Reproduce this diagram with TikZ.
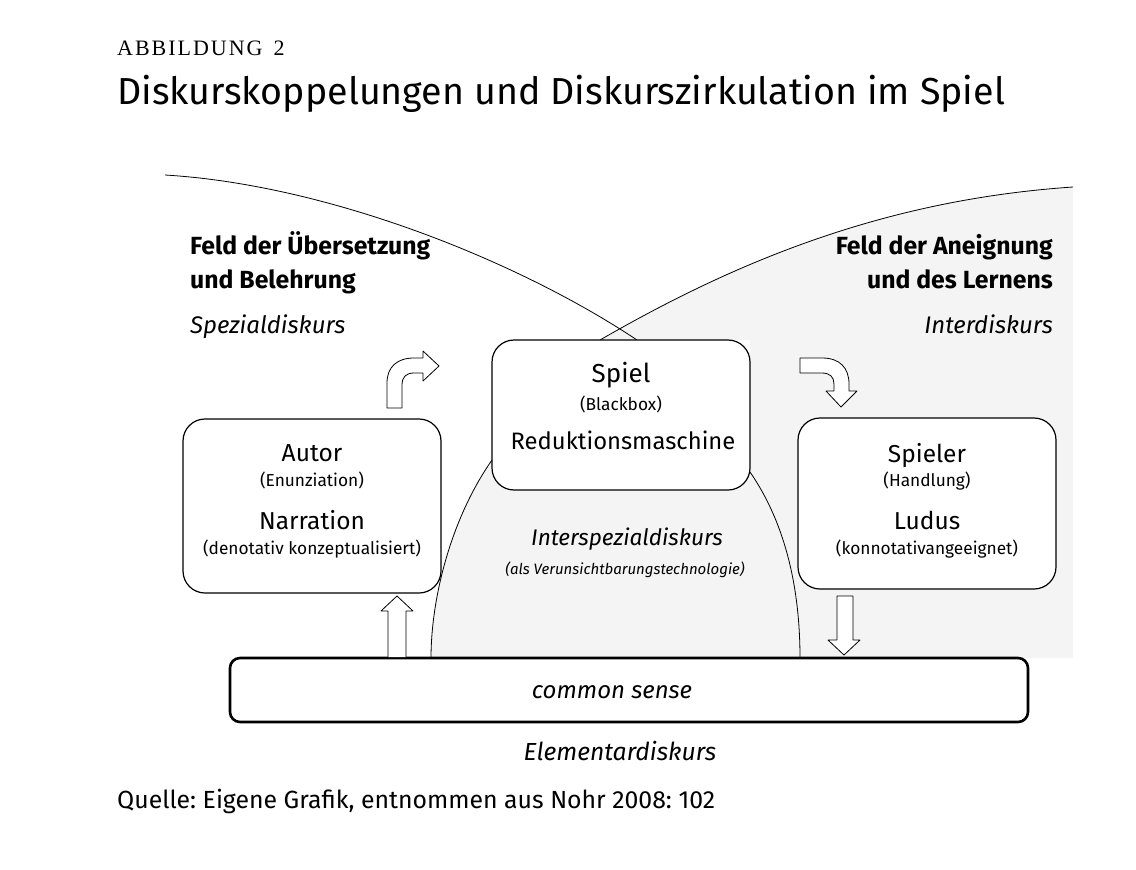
\documentclass[tikz,border=0pt]{standalone}
\usepackage{fontspec}
\setmainfont{Fira Sans}
\newfontfamily\capsfont[LetterSpace=9]{Liberation Serif}
\frenchspacing

\begin{document}
\begin{tikzpicture}[x=1pt,y=-1pt,line join=round,
  box/.style={draw,rounded corners=22pt,fill=white,line width=1.2pt,inner sep=0pt},
  big/.style={font=\fontsize{24.5}{29}\selectfont,inner sep=0pt,anchor=base},
  small/.style={font=\fontsize{17.3}{20}\selectfont,inner sep=0pt,anchor=base},
  field/.style={font=\bfseries\fontsize{24.8}{29}\selectfont,inner sep=0pt},
  fieldit/.style={font=\itshape\fontsize{24}{28}\selectfont,inner sep=0pt},
  blockarrow/.style={draw,fill=white,line width=0.8pt}]
\useasboundingbox (0,0) rectangle (1136,870);
% headline
\node[anchor=base west,inner sep=0pt,font=\capsfont\fontsize{22}{26}\selectfont] (fig) at (117,55) {ABBILDUNG\, 2};
\node[anchor=base west,inner sep=0pt,font=\fontsize{37.6}{44}\selectfont] (title) at (117,104) {Diskurskoppelungen und Diskurszirkulation im Spiel};
% the two fields and the arch
\fill[gray!9] (1073,187) .. controls (880,200) and (730,265) .. (600,340) -- (750,340) -- (750,472)
  .. controls (790,530) and (800,600) .. (800,658) -- (1073,658) -- cycle;
\fill[gray!9] (492,460) .. controls (450,520) and (431,600) .. (431,658) -- (800,658)
  .. controls (800,600) and (790,530) .. (750,472) -- cycle;
\draw[line width=0.8pt] (165,175) .. controls (330,185) and (520,262) .. (637,340);
\draw[line width=0.8pt] (1073,187) .. controls (880,200) and (730,265) .. (600,340);
\draw[line width=0.8pt] (492,460) .. controls (450,520) and (431,600) .. (431,658);
\draw[line width=0.8pt] (750,472) .. controls (790,530) and (800,600) .. (800,658);
% field labels
\node[field,anchor=base west] (ueb1) at (190,254) {Feld der Übersetzung};
\node[field,anchor=base west] (ueb2) at (190,288) {und Belehrung};
\node[fieldit,anchor=base west] (spez) at (190,333) {Spezialdiskurs};
\node[field,anchor=base east] (aneig1) at (1053,254) {Feld der Aneignung};
\node[field,anchor=base east] (aneig2) at (1053,288) {und des Lernens};
\node[fieldit,anchor=base east] (inter) at (1053,333) {Interdiskurs};
% boxes
\node[box,minimum width=258pt,minimum height=150pt] (spiel) at (621,415) {};
\node[box,minimum width=258pt,minimum height=174pt] (autor) at (312,506) {};
\node[box,minimum width=258pt,minimum height=171pt] (spieler) at (927,503.5) {};
\node[box,rounded corners=10pt,line width=2.6pt,minimum width=798pt,minimum height=64pt] (common) at (629,690) {};
% box texts
\node[big,font=\fontsize{26}{30}\selectfont] (spielT) at (621,382) {Spiel};
\node[small] (black) at (621,410) {(Blackbox)};
\node[big,font=\fontsize{23.8}{28}\selectfont] (redu) at (623,449) {Reduktionsmaschine};
\node[big] (autT) at (312,461) {Autor};
\node[small] (enun) at (312,486) {(Enunziation)};
\node[big] (narr) at (312,529) {Narration};
\node[small] (deno) at (312,554) {(denotativ konzeptualisiert)};
\node[big] (splT) at (927,462) {Spieler};
\node[small] (handl) at (927,486) {(Handlung)};
\node[big] (ludus) at (927,529) {Ludus};
\node[small] (konn) at (927,554) {(konnotativangeeignet)};
\node[big,font=\itshape\fontsize{22.6}{27}\selectfont] (isd) at (627,545) {Interspezialdiskurs};
\node[small,font=\itshape\fontsize{15}{18}\selectfont] (verun) at (625,574) {(als Verunsichtbarungstechnologie)};
\node[big,font=\itshape\fontsize{24}{28}\selectfont] (cs) at (612,698) {common sense};
\node[big,font=\itshape\fontsize{24.7}{29}\selectfont] (elem) at (620,760) {Elementardiskurs};
% block arrows
\draw[blockarrow] (387,408) -- (387,383) .. controls (387,367) and (397,358) .. (414,358) -- (423,358) -- (423,351)
  -- (439,366) -- (423,381) -- (423,373) -- (414,373) .. controls (406,373) and (402,377) .. (402,385) -- (402,408) -- cycle;
\draw[blockarrow] (800,358) -- (822,358) .. controls (840,358) and (849,368) .. (849,384) -- (849,391) -- (857,391)
  -- (841,407) -- (826,391) -- (834,391) -- (834,384) .. controls (834,377) and (830,373) .. (822,373) -- (800,373) -- cycle;
\draw[blockarrow] (388,657) -- (388,611) -- (381,611) -- (397,596) -- (413,611) -- (406,611) -- (406,657);
\draw[blockarrow] (837,596) -- (837,640) -- (828,640) -- (844,655) -- (860,640) -- (853,640) -- (853,596) -- cycle;
% source
\node[anchor=base west,inner sep=0pt,font=\fontsize{24.8}{29}\selectfont] (quelle) at (117,808) {Quelle: Eigene Grafik, entnommen aus Nohr 2008: 102};
\end{tikzpicture}
\end{document}
